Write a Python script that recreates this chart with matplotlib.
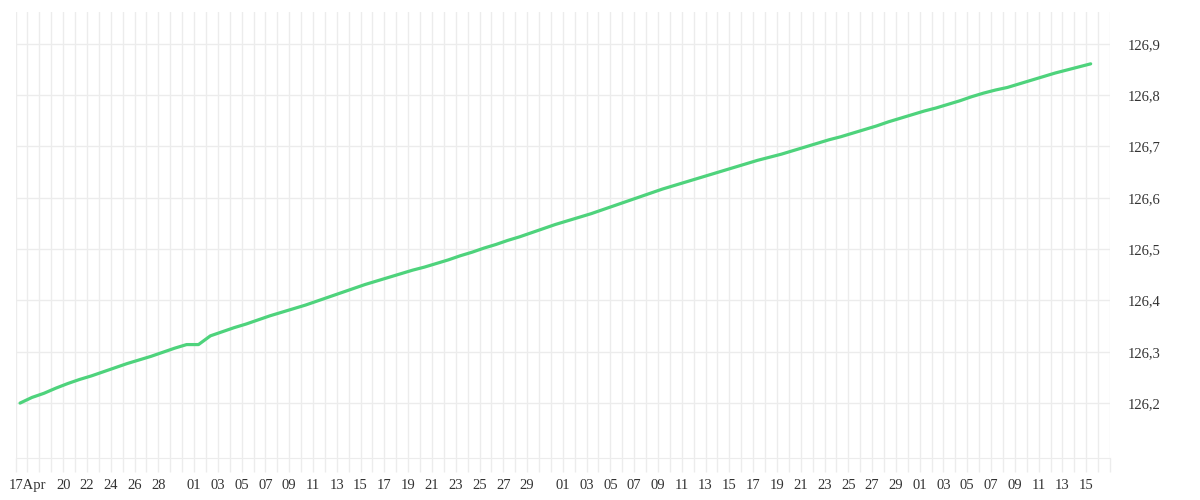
import numpy as np
import pandas as pd
import matplotlib
matplotlib.use("Agg")
import matplotlib.pyplot as plt
import matplotlib.dates as mdates
from matplotlib.ticker import FixedLocator

# denni hodnoty od 16. dubna
start = pd.Timestamp("2017-04-16 09:00")
values = [
    126.200, 126.211, 126.219, 126.229, 126.238, 126.246, 126.253, 126.261,
    126.269, 126.277, 126.284, 126.291, 126.299, 126.307, 126.314, 126.314,
    126.331, 126.339, 126.347, 126.354, 126.362, 126.370, 126.377, 126.384,
    126.391, 126.399, 126.407, 126.415, 126.423, 126.431, 126.438, 126.445,
    126.452, 126.459, 126.465, 126.472, 126.479, 126.487, 126.494, 126.502,
    126.509, 126.517, 126.524, 126.532, 126.540, 126.548, 126.555, 126.562,
    126.569, 126.577, 126.585, 126.593, 126.601, 126.609, 126.617, 126.624,
    126.631, 126.638, 126.645, 126.652, 126.659, 126.666, 126.673, 126.679,
    126.685, 126.692, 126.699, 126.706, 126.713, 126.719, 126.726, 126.733,
    126.740, 126.748, 126.755, 126.762, 126.769, 126.775, 126.782, 126.789,
    126.797, 126.804, 126.810, 126.815, 126.822, 126.829, 126.836, 126.843,
    126.849, 126.855, 126.861,
]
dates = pd.date_range(start, periods=len(values), freq="D")

# popisky osy x
tick_days = (["2017-04-17"]
             + ["2017-04-%02d" % d for d in range(20, 29, 2)]
             + ["2017-05-%02d" % d for d in range(1, 30, 2)]
             + ["2017-06-%02d" % d for d in range(1, 30, 2)]
             + ["2017-07-%02d" % d for d in range(1, 16, 2)])
tick_labels = ["17Apr"] + [d[-2:] for d in tick_days[1:]]
y_ticks = [126.2, 126.3, 126.4, 126.5, 126.6, 126.7, 126.8, 126.9]

grid_color = "#ececec"
text_color = "#333333"
plt.rcParams["font.family"] = ["Liberation Serif", "DejaVu Serif"]

fig = plt.figure(figsize=(12, 5), dpi=100)
ax = fig.add_axes([0.013, 0.084, 0.912, 0.892])

ax.plot(dates, values, color="#4ed37c", linewidth=2.3, solid_capstyle="round", zorder=3)

ax.set_xlim(pd.Timestamp("2017-04-16"), pd.Timestamp("2017-07-17"))
ax.set_ylim(126.093, 126.962)

# svisla mrizka po dnech
ax.xaxis.set_minor_locator(mdates.DayLocator())
ax.xaxis.set_major_locator(FixedLocator(mdates.date2num(pd.to_datetime(tick_days))))
ax.set_xticklabels(tick_labels)
ax.grid(which="both", axis="x", color=grid_color, linewidth=1)
ax.tick_params(axis="x", which="both", length=10, width=1, color=grid_color,
               labelsize=10.5, labelcolor=text_color, pad=5)

ax.yaxis.tick_right()
ax.set_yticks(y_ticks)
ax.set_yticklabels([("%.1f" % v).replace(".", ",") for v in y_ticks])
ax.grid(which="major", axis="y", color=grid_color, linewidth=1)
ax.tick_params(axis="y", length=0, pad=13, labelsize=10.5, labelcolor=text_color)

for side in ["left", "right", "top"]:
    ax.spines[side].set_visible(False)
ax.spines["bottom"].set_color(grid_color)
ax.set_axisbelow(True)

fig.savefig("out.png", dpi=100, facecolor="white")
